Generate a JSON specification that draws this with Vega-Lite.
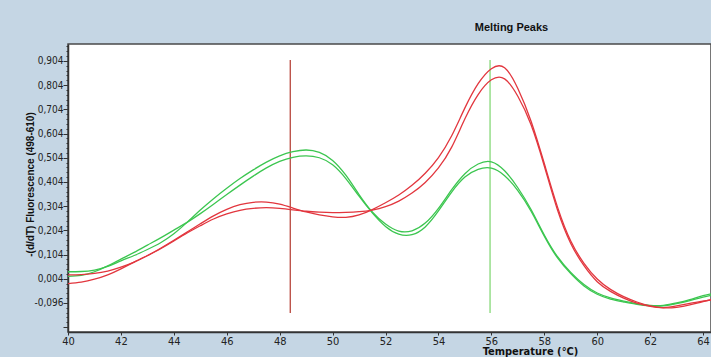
{
  "$schema": "https://vega.github.io/schema/vega-lite/v6.json",
  "autosize": {"type": "none"},
  "width": 643,
  "height": 288,
  "padding": {"left": 68, "top": 44, "right": 0, "bottom": 25},
  "background": "#c5d6e4",
  "config": {
    "view": {"fill": "white", "stroke": "#4a4a4a", "strokeWidth": 1.5},
    "font": "Liberation Sans"
  },
  "title": {
    "text": "Melting Peaks",
    "anchor": "middle",
    "frame": "group",
    "dx": 122,
    "offset": 8,
    "fontSize": 11,
    "font": "Liberation Sans",
    "fontWeight": "bold",
    "color": "#111111"
  },
  "datasets": {
    "curves": [
      {"t":40,"v":0.033,"s":"GA"},{"t":40.5,"v":0.034,"s":"GA"},{"t":41,"v":0.040,"s":"GA"},{"t":41.5,"v":0.055,"s":"GA"},{"t":42,"v":0.078,"s":"GA"},{"t":42.5,"v":0.100,"s":"GA"},{"t":43,"v":0.125,"s":"GA"},{"t":43.5,"v":0.153,"s":"GA"},{"t":44,"v":0.190,"s":"GA"},{"t":44.5,"v":0.237,"s":"GA"},{"t":45,"v":0.288,"s":"GA"},{"t":45.5,"v":0.335,"s":"GA"},{"t":46,"v":0.378,"s":"GA"},{"t":46.5,"v":0.418,"s":"GA"},{"t":47,"v":0.454,"s":"GA"},{"t":47.5,"v":0.486,"s":"GA"},{"t":48,"v":0.512,"s":"GA"},{"t":48.5,"v":0.529,"s":"GA"},{"t":49,"v":0.536,"s":"GA"},{"t":49.5,"v":0.526,"s":"GA"},{"t":50,"v":0.493,"s":"GA"},{"t":50.5,"v":0.432,"s":"GA"},{"t":51,"v":0.352,"s":"GA"},{"t":51.5,"v":0.280,"s":"GA"},{"t":52,"v":0.230,"s":"GA"},{"t":52.5,"v":0.201,"s":"GA"},{"t":53,"v":0.202,"s":"GA"},{"t":53.5,"v":0.234,"s":"GA"},{"t":54,"v":0.295,"s":"GA"},{"t":54.5,"v":0.372,"s":"GA"},{"t":55,"v":0.438,"s":"GA"},{"t":55.5,"v":0.478,"s":"GA"},{"t":56,"v":0.487,"s":"GA"},{"t":56.5,"v":0.450,"s":"GA"},{"t":57,"v":0.380,"s":"GA"},{"t":57.5,"v":0.290,"s":"GA"},{"t":58,"v":0.185,"s":"GA"},{"t":58.5,"v":0.095,"s":"GA"},{"t":59,"v":0.030,"s":"GA"},{"t":59.5,"v":-0.020,"s":"GA"},{"t":60,"v":-0.055,"s":"GA"},{"t":60.5,"v":-0.075,"s":"GA"},{"t":61,"v":-0.088,"s":"GA"},{"t":61.5,"v":-0.099,"s":"GA"},{"t":62,"v":-0.106,"s":"GA"},{"t":62.5,"v":-0.106,"s":"GA"},{"t":63,"v":-0.096,"s":"GA"},{"t":63.5,"v":-0.082,"s":"GA"},{"t":64,"v":-0.066,"s":"GA"},{"t":64.5,"v":-0.054,"s":"GA"},
      {"t":40,"v":0.014,"s":"GB"},{"t":40.5,"v":0.018,"s":"GB"},{"t":41,"v":0.033,"s":"GB"},{"t":41.5,"v":0.057,"s":"GB"},{"t":42,"v":0.085,"s":"GB"},{"t":42.5,"v":0.113,"s":"GB"},{"t":43,"v":0.143,"s":"GB"},{"t":43.5,"v":0.173,"s":"GB"},{"t":44,"v":0.205,"s":"GB"},{"t":44.5,"v":0.237,"s":"GB"},{"t":45,"v":0.273,"s":"GB"},{"t":45.5,"v":0.312,"s":"GB"},{"t":46,"v":0.352,"s":"GB"},{"t":46.5,"v":0.391,"s":"GB"},{"t":47,"v":0.428,"s":"GB"},{"t":47.5,"v":0.462,"s":"GB"},{"t":48,"v":0.489,"s":"GB"},{"t":48.5,"v":0.506,"s":"GB"},{"t":49,"v":0.512,"s":"GB"},{"t":49.5,"v":0.504,"s":"GB"},{"t":50,"v":0.475,"s":"GB"},{"t":50.5,"v":0.418,"s":"GB"},{"t":51,"v":0.345,"s":"GB"},{"t":51.5,"v":0.276,"s":"GB"},{"t":52,"v":0.220,"s":"GB"},{"t":52.5,"v":0.188,"s":"GB"},{"t":53,"v":0.186,"s":"GB"},{"t":53.5,"v":0.218,"s":"GB"},{"t":54,"v":0.284,"s":"GB"},{"t":54.5,"v":0.362,"s":"GB"},{"t":55,"v":0.424,"s":"GB"},{"t":55.5,"v":0.456,"s":"GB"},{"t":56,"v":0.461,"s":"GB"},{"t":56.5,"v":0.430,"s":"GB"},{"t":57,"v":0.368,"s":"GB"},{"t":57.5,"v":0.283,"s":"GB"},{"t":58,"v":0.180,"s":"GB"},{"t":58.5,"v":0.090,"s":"GB"},{"t":59,"v":0.025,"s":"GB"},{"t":59.5,"v":-0.026,"s":"GB"},{"t":60,"v":-0.060,"s":"GB"},{"t":60.5,"v":-0.080,"s":"GB"},{"t":61,"v":-0.092,"s":"GB"},{"t":61.5,"v":-0.102,"s":"GB"},{"t":62,"v":-0.108,"s":"GB"},{"t":62.5,"v":-0.108,"s":"GB"},{"t":63,"v":-0.099,"s":"GB"},{"t":63.5,"v":-0.086,"s":"GB"},{"t":64,"v":-0.072,"s":"GB"},{"t":64.5,"v":-0.060,"s":"GB"},
      {"t":40,"v":0.020,"s":"RA"},{"t":40.5,"v":0.021,"s":"RA"},{"t":41,"v":0.026,"s":"RA"},{"t":41.5,"v":0.036,"s":"RA"},{"t":42,"v":0.052,"s":"RA"},{"t":42.5,"v":0.073,"s":"RA"},{"t":43,"v":0.099,"s":"RA"},{"t":43.5,"v":0.130,"s":"RA"},{"t":44,"v":0.163,"s":"RA"},{"t":44.5,"v":0.197,"s":"RA"},{"t":45,"v":0.231,"s":"RA"},{"t":45.5,"v":0.264,"s":"RA"},{"t":46,"v":0.291,"s":"RA"},{"t":46.5,"v":0.310,"s":"RA"},{"t":47,"v":0.320,"s":"RA"},{"t":47.5,"v":0.321,"s":"RA"},{"t":48,"v":0.312,"s":"RA"},{"t":48.5,"v":0.296,"s":"RA"},{"t":49,"v":0.280,"s":"RA"},{"t":49.5,"v":0.268,"s":"RA"},{"t":50,"v":0.260,"s":"RA"},{"t":50.5,"v":0.258,"s":"RA"},{"t":51,"v":0.268,"s":"RA"},{"t":51.5,"v":0.290,"s":"RA"},{"t":52,"v":0.318,"s":"RA"},{"t":52.5,"v":0.350,"s":"RA"},{"t":53,"v":0.390,"s":"RA"},{"t":53.5,"v":0.440,"s":"RA"},{"t":54,"v":0.505,"s":"RA"},{"t":54.5,"v":0.595,"s":"RA"},{"t":55,"v":0.710,"s":"RA"},{"t":55.5,"v":0.810,"s":"RA"},{"t":56,"v":0.872,"s":"RA"},{"t":56.5,"v":0.876,"s":"RA"},{"t":57,"v":0.790,"s":"RA"},{"t":57.5,"v":0.655,"s":"RA"},{"t":58,"v":0.480,"s":"RA"},{"t":58.5,"v":0.300,"s":"RA"},{"t":59,"v":0.160,"s":"RA"},{"t":59.5,"v":0.068,"s":"RA"},{"t":60,"v":0.003,"s":"RA"},{"t":60.5,"v":-0.040,"s":"RA"},{"t":61,"v":-0.070,"s":"RA"},{"t":61.5,"v":-0.092,"s":"RA"},{"t":62,"v":-0.108,"s":"RA"},{"t":62.5,"v":-0.116,"s":"RA"},{"t":63,"v":-0.114,"s":"RA"},{"t":63.5,"v":-0.104,"s":"RA"},{"t":64,"v":-0.090,"s":"RA"},{"t":64.5,"v":-0.078,"s":"RA"},
      {"t":40,"v":-0.016,"s":"RB"},{"t":40.5,"v":-0.010,"s":"RB"},{"t":41,"v":0.002,"s":"RB"},{"t":41.5,"v":0.020,"s":"RB"},{"t":42,"v":0.045,"s":"RB"},{"t":42.5,"v":0.073,"s":"RB"},{"t":43,"v":0.100,"s":"RB"},{"t":43.5,"v":0.128,"s":"RB"},{"t":44,"v":0.160,"s":"RB"},{"t":44.5,"v":0.193,"s":"RB"},{"t":45,"v":0.223,"s":"RB"},{"t":45.5,"v":0.251,"s":"RB"},{"t":46,"v":0.272,"s":"RB"},{"t":46.5,"v":0.287,"s":"RB"},{"t":47,"v":0.295,"s":"RB"},{"t":47.5,"v":0.298,"s":"RB"},{"t":48,"v":0.295,"s":"RB"},{"t":48.5,"v":0.289,"s":"RB"},{"t":49,"v":0.283,"s":"RB"},{"t":49.5,"v":0.279,"s":"RB"},{"t":50,"v":0.277,"s":"RB"},{"t":50.5,"v":0.278,"s":"RB"},{"t":51,"v":0.281,"s":"RB"},{"t":51.5,"v":0.288,"s":"RB"},{"t":52,"v":0.302,"s":"RB"},{"t":52.5,"v":0.325,"s":"RB"},{"t":53,"v":0.358,"s":"RB"},{"t":53.5,"v":0.402,"s":"RB"},{"t":54,"v":0.462,"s":"RB"},{"t":54.5,"v":0.548,"s":"RB"},{"t":55,"v":0.665,"s":"RB"},{"t":55.5,"v":0.765,"s":"RB"},{"t":56,"v":0.826,"s":"RB"},{"t":56.5,"v":0.830,"s":"RB"},{"t":57,"v":0.758,"s":"RB"},{"t":57.5,"v":0.640,"s":"RB"},{"t":58,"v":0.470,"s":"RB"},{"t":58.5,"v":0.288,"s":"RB"},{"t":59,"v":0.150,"s":"RB"},{"t":59.5,"v":0.058,"s":"RB"},{"t":60,"v":-0.008,"s":"RB"},{"t":60.5,"v":-0.048,"s":"RB"},{"t":61,"v":-0.076,"s":"RB"},{"t":61.5,"v":-0.097,"s":"RB"},{"t":62,"v":-0.110,"s":"RB"},{"t":62.5,"v":-0.115,"s":"RB"},{"t":63,"v":-0.108,"s":"RB"},{"t":63.5,"v":-0.098,"s":"RB"},{"t":64,"v":-0.088,"s":"RB"},{"t":64.5,"v":-0.080,"s":"RB"}
    ],
    "markers": [
      {"t": 48.4, "top": 0.908, "bottom": -0.137, "s": "red"},
      {"t": 55.95, "top": 0.908, "bottom": -0.137, "s": "green"}
    ]
  },
  "layer": [
    {
      "data": {"name": "markers"},
      "mark": {"type": "rule", "strokeWidth": 1.3},
      "encoding": {
        "x": {"field": "t", "type": "quantitative", "scale": {"domain": [40, 64.3], "nice": false, "zero": false},
          "axis": {"values": [40,42,44,46,48,50,52,54,56,58,60,62,64], "tickCount": 40, "format": "d", "grid": false, "tickSize": 3, "tickColor": "#333", "domainColor": "#333", "domainWidth": 1.5, "labelOverlap": false,
            "labelFont": "Liberation Sans Narrow, DejaVu Sans Condensed, Liberation Sans, sans-serif", "labelFontSize": 11, "labelColor": "#222", "labelPadding": 0, "labelFlush": false,
            "title": "Temperature (°C)", "titleFont": "Liberation Sans Narrow, DejaVu Sans Condensed, Liberation Sans, sans-serif", "titleFontSize": 11, "titleFontWeight": "bold", "titleColor": "#111",
            "titleX": 462, "titleY": 13, "titleBaseline": "top", "titleAnchor": null}},
        "y": {"field": "top", "type": "quantitative", "scale": {"domain": [-0.216, 0.974], "nice": false, "zero": false},
          "axis": {"values": [-0.196,-0.176,-0.156,-0.136,-0.116,-0.096,-0.076,-0.056,-0.036,-0.016,0.004,0.024,0.044,0.064,0.084,0.104,0.124,0.144,0.164,0.184,0.204,0.224,0.244,0.264,0.284,0.304,0.324,0.344,0.364,0.384,0.404,0.424,0.444,0.464,0.484,0.504,0.524,0.544,0.564,0.584,0.604,0.624,0.644,0.664,0.684,0.704,0.724,0.744,0.764,0.784,0.804,0.824,0.844,0.864,0.884,0.904,0.924,0.944,0.964],
            "tickCount": 200, "grid": false, "labelOverlap": false,
            "tickSize": {"condition": {"test": "abs((datum.value - 0.004) * 10 - round((datum.value - 0.004) * 10)) < 0.01", "value": 5}, "value": 2},
            "tickColor": "#333", "domainColor": "#333", "domainWidth": 1.5,
            "labelExpr": "abs((datum.value - 0.004) * 10 - round((datum.value - 0.004) * 10)) < 0.01 && datum.value > -0.1 ? replace(replace(format(datum.value, '.3f'), '.', ','), '\u2212', '-') : ''",
            "labelFont": "Liberation Sans Narrow, DejaVu Sans Condensed, Liberation Sans, sans-serif", "labelFontSize": 10, "labelColor": "#222", "labelPadding": 0,
            "title": "-(d/dT) Fluorescence (498-610)", "titleFont": "Liberation Sans", "titleFontSize": 10, "titleFontWeight": "bold", "titleColor": "#111",
            "titleX": -38, "titleY": 140, "titleAngle": -90, "titleAlign": "center", "titleBaseline": "middle"}},
        "y2": {"field": "bottom"},
        "color": {"field": "s", "type": "nominal", "scale": {"domain": ["red", "green", "GA", "GB", "RA", "RB"], "range": ["#b8463c", "#86d878", "#3cc650", "#3cc650", "#e2363e", "#e2363e"]}, "legend": null}
      }
    },
    {
      "data": {"name": "curves"},
      "mark": {"type": "line", "interpolate": "natural", "strokeWidth": 1.3, "clip": true},
      "encoding": {
        "x": {"field": "t", "type": "quantitative"},
        "y": {"field": "v", "type": "quantitative"},
        "detail": {"field": "s"},
        "color": {"field": "s", "type": "nominal", "legend": null}
      }
    }
  ]
}
